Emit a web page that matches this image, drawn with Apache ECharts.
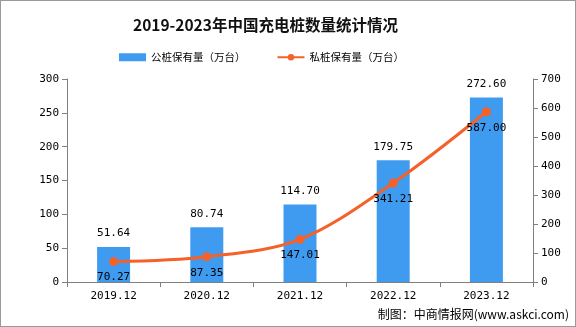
<!DOCTYPE html>
<html><head><meta charset="utf-8">
<script src="https://cdn.jsdelivr.net/npm/echarts@6/dist/echarts.min.js"></script>
<style>html,body{margin:0;padding:0;background:#fff}#c{width:574px;height:325px;border:1px solid #999}</style>
</head><body><div id="c"></div>
<script>
const categories = ['2019.12','2020.12','2021.12','2022.12','2023.12'];
const publicPiles = [51.64, 80.74, 114.70, 179.75, 272.60];
const privatePiles = [70.27, 87.35, 147.01, 341.21, 587.00];
const leftTicks = {min:0, max:300, interval:50};
const rightTicks = {min:0, max:700, interval:100};
const chart = echarts.init(document.getElementById('c'));
const numFont = 'DejaVu Sans Mono';
const axisStyle = {axisLine:{show:true,lineStyle:{color:'#808080'}},axisTick:{show:true,length:5,lineStyle:{color:'#808080'}},axisLabel:{color:'#000',fontSize:11,fontFamily:numFont},splitLine:{show:false}};
chart.setOption({
  animation:false,
  title:{text:'2019-2023年中国充电桩数量统计情况',left:127,top:11,textStyle:{fontSize:15.5,fontWeight:'bold',color:'#111',fontFamily:'Noto Sans CJK SC'}},
  legend:{top:46,left:113,itemGap:31,itemWidth:27,itemHeight:8,textStyle:{fontSize:10.5,color:'#000',fontFamily:'Noto Sans CJK SC'},
    data:[{name:'公桩保有量（万台）',icon:'rect'},{name:'私桩保有量（万台）'}]},
  grid:{left:66,right:42,top:78,bottom:44},
  xAxis:{type:'category',data:categories,...axisStyle,axisLabel:{color:'#000',fontSize:11,fontFamily:numFont,margin:9}},
  yAxis:[
    {type:'value',...leftTicks,...axisStyle},
    {type:'value',...rightTicks,...axisStyle,position:'right'}
  ],
  series:[
    {name:'公桩保有量（万台）',type:'bar',data:publicPiles,barWidth:33,itemStyle:{color:'#3f9bef'},
      label:{show:true,position:'top',distance:8,color:'#000',fontSize:11,fontFamily:numFont,formatter:p=>p.value.toFixed(2)}},
    {name:'私桩保有量（万台）',type:'line',yAxisIndex:1,data:privatePiles,smooth:0.33,symbol:'circle',symbolSize:9,
      lineStyle:{width:3,color:'#f4622a'},itemStyle:{color:'#f4622a'},
      label:{show:true,position:'bottom',distance:6,color:'#000',fontSize:11,fontFamily:numFont,formatter:p=>p.value.toFixed(2)}}
  ],
  graphic:[{type:'text',right:6,bottom:6,style:{text:'制图：中商情报网(www.askci.com)',fontSize:12,fill:'#000',fontFamily:'Noto Sans CJK SC'}}]
});
</script></body></html>
